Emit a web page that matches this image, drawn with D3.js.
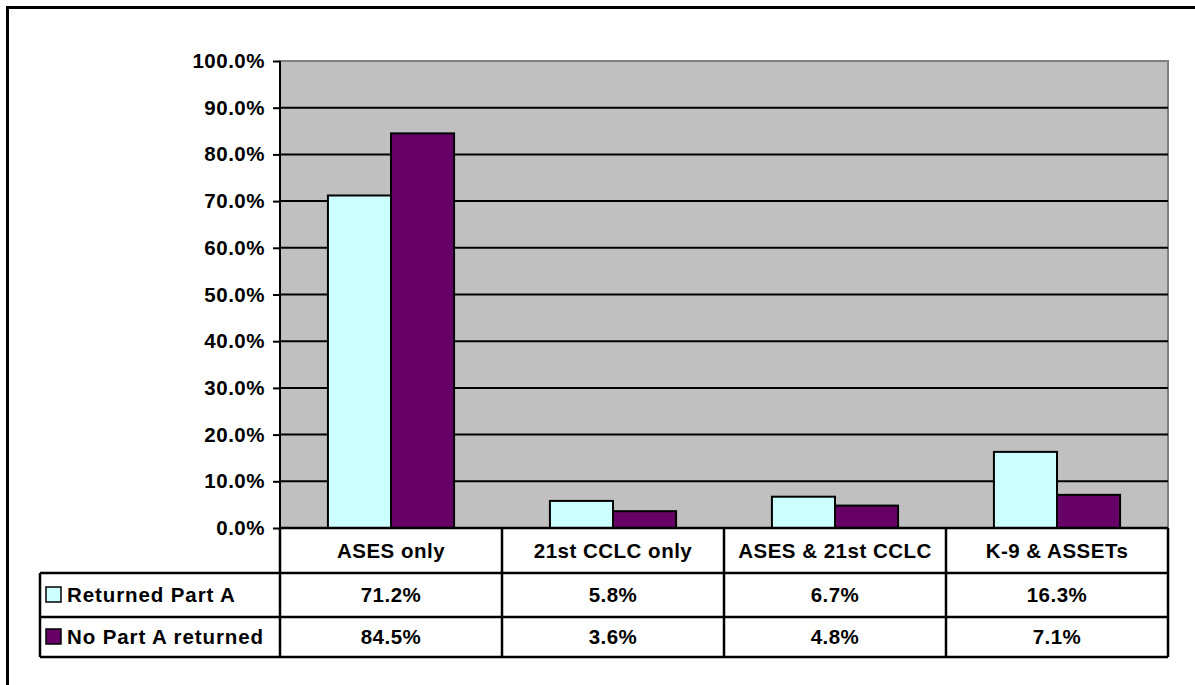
<!doctype html>
<html>
<head>
<script src="https://cdn.jsdelivr.net/npm/d3@7"></script>
<style>
  body { margin: 0; background: #fff; }
  svg { display: block; font-family: "Liberation Sans", Arial, sans-serif; font-weight: bold; }
</style>
</head>
<body>
<svg width="1195" height="685"></svg>
<script>
// data
var categories = ["ASES only", "21st CCLC only", "ASES & 21st CCLC", "K-9 & ASSETs"];
var seriesNames = ["Returned Part A", "No Part A returned"];
var returnedPartA = [71.2, 5.8, 6.7, 16.3];
var noPartA = [84.5, 3.6, 4.8, 7.1];
var yTicks = [0, 10, 20, 30, 40, 50, 60, 70, 80, 90, 100];
var colors = ["#ccffff", "#660066"];

var svg = d3.select("svg");
var plotLeft = 280, plotRight = 1168, plotTop = 61, plotBottom = 528;
var tableLeft = 40, rowH = [45, 44, 40];
var fs = 20.5, ls = 0.5;

// outer frame
svg.append("rect").attr("x", 7.5).attr("y", 7.5).attr("width", 1200).attr("height", 700)
  .attr("fill", "none").attr("stroke", "#000").attr("stroke-width", 3);

var x = d3.scaleBand().domain(categories).range([plotLeft, plotRight]);
var xs = d3.scaleBand().domain(seriesNames).range([0, x.bandwidth()]).paddingInner(0).paddingOuter(0.76);
var y = d3.scaleLinear().domain([0, 100]).range([plotBottom, plotTop]);

// plot area
svg.append("rect").attr("x", plotLeft).attr("y", plotTop).attr("width", plotRight - plotLeft).attr("height", plotBottom - plotTop)
  .attr("fill", "#c0c0c0").attr("stroke", "#808080").attr("stroke-width", 2);

// gridlines
svg.append("g").selectAll("line").data(yTicks.slice(1, -1)).join("line")
  .attr("x1", plotLeft).attr("x2", plotRight).attr("y1", d => y(d)).attr("y2", d => y(d))
  .attr("stroke", "#000").attr("stroke-width", 2);

// bars
var data = [returnedPartA, noPartA];
data.forEach(function(vals, si) {
  svg.append("g").selectAll("rect").data(vals).join("rect")
    .attr("x", (d, i) => x(categories[i]) + xs(seriesNames[si]))
    .attr("y", d => y(d))
    .attr("width", xs.bandwidth())
    .attr("height", d => plotBottom - y(d))
    .attr("fill", colors[si]).attr("stroke", "#000").attr("stroke-width", 2);
});

// y axis
var yAxis = d3.axisLeft(y).tickValues(yTicks).tickSize(7).tickPadding(8)
  .tickFormat(d => d.toFixed(1) + "%");
var ag = svg.append("g").attr("transform", "translate(" + plotLeft + ",0)").call(yAxis);
ag.select(".domain").attr("stroke-width", 2).attr("d", "M0," + plotTop + "V" + plotBottom);
ag.selectAll(".tick line").attr("stroke-width", 2);
ag.selectAll("text").attr("font-size", fs).attr("font-weight", "bold").attr("letter-spacing", ls)
  .attr("font-family", "'Liberation Sans', Arial, sans-serif").attr("fill", "#000");

// data table
var r0 = plotBottom, r1 = r0 + rowH[0], r2 = r1 + rowH[1], r3 = r2 + rowH[2];
var tg = svg.append("g").attr("stroke", "#000").attr("stroke-width", 2.5);
tg.append("line").attr("x1", tableLeft).attr("x2", plotRight).attr("y1", r1).attr("y2", r1);
tg.append("line").attr("x1", tableLeft).attr("x2", plotRight).attr("y1", r2).attr("y2", r2);
tg.append("line").attr("x1", tableLeft).attr("x2", plotRight).attr("y1", r3).attr("y2", r3);
tg.append("line").attr("x1", tableLeft).attr("x2", tableLeft).attr("y1", r1).attr("y2", r3);
tg.append("line").attr("x1", plotLeft).attr("x2", plotRight).attr("y1", r0).attr("y2", r0);
tg.selectAll("line.v").data(categories.concat(["end"])).join("line").attr("class", "v")
  .attr("x1", (d, i) => i < categories.length ? x(d) : plotRight)
  .attr("x2", (d, i) => i < categories.length ? x(d) : plotRight)
  .attr("y1", r0).attr("y2", r3);

// category labels
svg.append("g").selectAll("text").data(categories).join("text")
  .attr("x", d => x(d) + x.bandwidth() / 2).attr("y", (r0 + r1) / 2 + 7)
  .attr("text-anchor", "middle").attr("font-size", fs).attr("letter-spacing", ls).text(d => d);

// values
var rowsY = [(r1 + r2) / 2 + 7, (r2 + r3) / 2 + 7];
data.forEach(function(vals, si) {
  svg.append("g").selectAll("text").data(vals).join("text")
    .attr("x", (d, i) => x(categories[i]) + x.bandwidth() / 2).attr("y", rowsY[si])
    .attr("text-anchor", "middle").attr("font-size", fs).attr("letter-spacing", ls).text(d => d.toFixed(1) + "%");
});

// legend keys
seriesNames.forEach(function(s, si) {
  svg.append("rect").attr("x", tableLeft + 6).attr("y", rowsY[si] - 15).attr("width", 15).attr("height", 15)
    .attr("fill", colors[si]).attr("stroke", "#000").attr("stroke-width", 1.5);
  svg.append("text").attr("x", tableLeft + 27).attr("y", rowsY[si])
    .attr("font-size", fs).attr("letter-spacing", 0.9).text(s);
});
</script>
</body>
</html>
